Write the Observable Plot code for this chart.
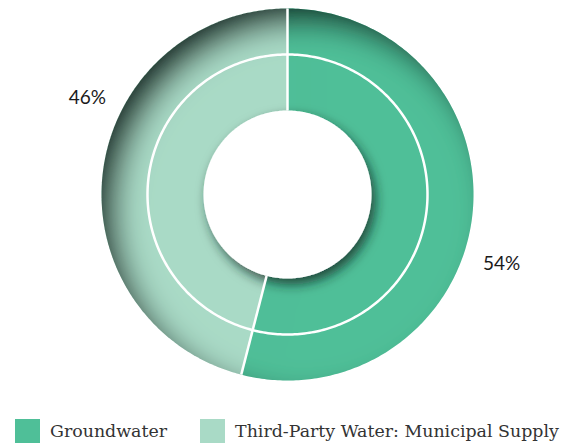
<!DOCTYPE html>
<html>
<head>
<meta charset="utf-8">
<script src="https://cdn.jsdelivr.net/npm/d3@7"></script>
<script src="https://cdn.jsdelivr.net/npm/@observablehq/plot@0.6"></script>
<style>
  html, body { margin: 0; padding: 0; background: #fff; }
  #wrap { width: 572px; height: 443px; overflow: hidden; }
  #legend { display: flex; align-items: center; height: 24px; font-family: "DejaVu Serif", serif; font-size: 17.4px; color: #333; white-space: nowrap; }
  #legend .item { display: flex; align-items: center; }
  #legend .sw { width: 25px; height: 24px; margin-right: 10px; }
</style>
</head>
<body>
<div id="wrap">
  <div id="chart"></div>
  <div id="legend"></div>
</div>
<script>
const categories = ["Groundwater", "Third-Party Water: Municipal Supply"];
const values = [54, 46];
const colors = ["#4fbf98", "#a9dac6"];
const labels = ["54%", "46%"];

// geometry (relative to outer radius = 1)
const W = 572, H = 419, R = 186, CX = 287, CY = 194;
const R_IN = 84 / R, R_LINE = 140 / R, R_LAB = 1.2;

const pie = d3.pie().sort(null).value(d => d)(values);

function arcPts(r, a0, a1, n, cat) {
  const pts = [];
  for (let k = 0; k <= n; k++) {
    const a = a0 + (a1 - a0) * k / n;
    pts.push({x: r * Math.sin(a), y: r * Math.cos(a), cat});
  }
  return pts;
}

const wedges = pie.flatMap((p, i) => [
  {x: 0, y: 0, cat: categories[i]},
  ...arcPts(1, p.startAngle, p.endAngle, 240, categories[i])
]);
const hole = arcPts(R_IN, 0, 2 * Math.PI, 360, "hole");
const ring = arcPts(R_LINE, 0, 2 * Math.PI, 360, "ring");
const labelOffset = 0.255;

const chart = Plot.plot({
  width: W,
  height: H,
  margin: 0,
  x: {domain: [-CX / R, (W - CX) / R], axis: null},
  y: {domain: [-(H - CY) / R, CY / R], axis: null},
  color: {domain: categories, range: colors},
  marks: [
    Plot.line(wedges, {x: "x", y: "y", z: "cat", fill: "cat", stroke: "none", curve: "linear-closed"}),
    Plot.line(hole, {x: "x", y: "y", fill: "white", stroke: "none", curve: "linear-closed"}),
    Plot.line(ring, {x: "x", y: "y", stroke: "white", strokeWidth: 2.5, fill: "none", curve: "linear-closed"}),
    Plot.link(pie, {
      x1: d => R_IN * Math.sin(d.startAngle), y1: d => R_IN * Math.cos(d.startAngle),
      x2: d => Math.sin(d.startAngle), y2: d => Math.cos(d.startAngle),
      stroke: "white", strokeWidth: 2.5
    }),
    Plot.text(pie, {
      x: d => R_LAB * Math.sin((d.startAngle + d.endAngle) / 2 + labelOffset),
      y: d => R_LAB * Math.cos((d.startAngle + d.endAngle) / 2 + labelOffset),
      text: (d, i) => labels[i],
      dx: 7, dy: -14,
      fontSize: 19,
      fontFamily: "Lato, sans-serif",
      fill: "#1a1a1a"
    })
  ]
});

// shadows
const svg = d3.select(chart);
const defs = svg.insert("defs", ":first-child");
const inset = defs.append("filter").attr("id", "insetShadow")
  .attr("x", "-20%").attr("y", "-20%").attr("width", "140%").attr("height", "140%");
inset.append("feOffset").attr("in", "SourceAlpha").attr("dx", 16).attr("dy", 16).attr("result", "off");
inset.append("feGaussianBlur").attr("in", "off").attr("stdDeviation", 15).attr("result", "blur");
inset.append("feComposite").attr("in", "SourceAlpha").attr("in2", "blur").attr("operator", "out").attr("result", "inv");
inset.append("feFlood").attr("flood-color", "#0e2a23").attr("flood-opacity", 1).attr("result", "col");
inset.append("feComposite").attr("in", "col").attr("in2", "inv").attr("operator", "in").attr("result", "shadow");
inset.append("feComposite").attr("in", "shadow").attr("in2", "SourceGraphic").attr("operator", "over");

const drop = defs.append("filter").attr("id", "dropShadow")
  .attr("x", "-30%").attr("y", "-30%").attr("width", "160%").attr("height", "160%");
drop.append("feDropShadow").attr("dx", 4).attr("dy", 6).attr("stdDeviation", 6)
  .attr("flood-color", "#0f2c24").attr("flood-opacity", 0.75);

const lineGroups = chart.querySelectorAll('g[aria-label="line"]');
lineGroups[0].setAttribute("filter", "url(#insetShadow)");
lineGroups[1].setAttribute("filter", "url(#dropShadow)");

document.getElementById("chart").appendChild(chart);

// legend
const legend = d3.select("#legend");
categories.forEach((c, i) => {
  const item = legend.append("div").attr("class", "item")
    .style("margin-left", i === 0 ? "15px" : "33px");
  item.append("div").attr("class", "sw").style("background", colors[i]);
  item.append("span").text(c);
});
</script>
</body>
</html>
